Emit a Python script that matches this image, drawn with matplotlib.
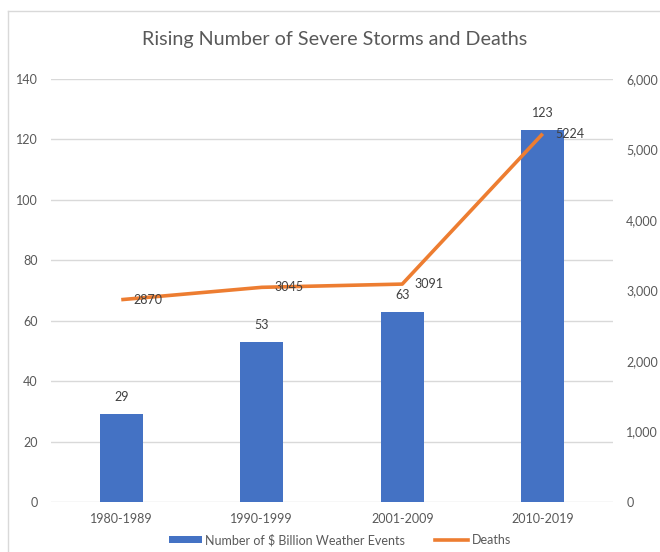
import matplotlib
matplotlib.use("Agg")
import matplotlib.pyplot as plt
from matplotlib.lines import Line2D
from matplotlib.patches import Patch
from matplotlib.ticker import FuncFormatter

categories = ["1980-1989", "1990-1999", "2001-2009", "2010-2019"]
events = [29, 53, 63, 123]
deaths = [2870, 3045, 3091, 5224]
left_ticks = [0, 20, 40, 60, 80, 100, 120, 140]
right_ticks = [0, 1000, 2000, 3000, 4000, 5000, 6000]

plt.rcParams['font.family'] = ['Lato', 'DejaVu Sans']
txt = '#595959'
bar_c = '#4472C4'
line_c = '#ED7D31'

fig = plt.figure(figsize=(6.6, 5.52), dpi=100)
ax = fig.add_axes([51/660, 1-502/552, (613-51)/660, (502-79)/552])
x = list(range(len(categories)))
ax.bar(x, events, width=0.306, color=bar_c, zorder=2)
ax.set_xlim(-0.5, len(categories)-0.5)
ax.set_ylim(0, 140)
ax.set_yticks(left_ticks)
ax.set_xticks(x)
ax.set_xticklabels(categories)
ax.grid(axis='y', color='#D9D9D9', linewidth=1, zorder=0)
ax.set_axisbelow(True)
for s in ax.spines.values():
    s.set_visible(False)
ax.tick_params(axis='both', length=0, labelsize=9, colors=txt)
ax.tick_params(axis='y', pad=9.5)
ax.tick_params(axis='x', pad=8)
for xi, v in zip(x, events):
    ax.annotate(str(v), (xi, v), xytext=(0, 8), textcoords='offset points',
                ha='center', va='bottom', fontsize=9, color='#404040')

ax2 = ax.twinx()
ax2.plot(x, deaths, color=line_c, linewidth=2.6, solid_capstyle='butt', zorder=3)
ax2.set_ylim(0, 6000)
ax2.set_yticks(right_ticks)
ax2.yaxis.set_major_formatter(FuncFormatter(lambda v, p: f"{int(v):,}"))
for s in ax2.spines.values():
    s.set_visible(False)
ax2.tick_params(axis='y', length=0, labelsize=9, colors=txt, pad=9.5)
for xi, v in zip(x, deaths):
    ax2.annotate(str(v), (xi, v), xytext=(9, 0), textcoords='offset points',
                 ha='left', va='center', fontsize=9, color='#404040')

fig.text(335/660, 1-40/552, "Rising Number of Severe Storms and Deaths",
         ha='center', va='center', fontsize=14.2, color=txt)

handles = [Patch(facecolor=bar_c, edgecolor='none'),
           Line2D([0], [0], color=line_c, linewidth=2.6)]
fig.legend(handles, ["Number of $ Billion Weather Events", "Deaths"],
           loc='center', bbox_to_anchor=(340/660, 1-540/552), ncol=2, frameon=False,
           fontsize=9, labelcolor=txt, handlelength=2.6, handleheight=0.5,
           handletextpad=0.3, columnspacing=2.4)

fig.add_artist(Line2D([8/660, 8/660], [0, 1-11/552], transform=fig.transFigure,
                      color='#D9D9D9', linewidth=1))
fig.add_artist(Line2D([8/660, 1], [1-11/552, 1-11/552], transform=fig.transFigure,
                      color='#D9D9D9', linewidth=1))

fig.savefig("out.png", dpi=100)
